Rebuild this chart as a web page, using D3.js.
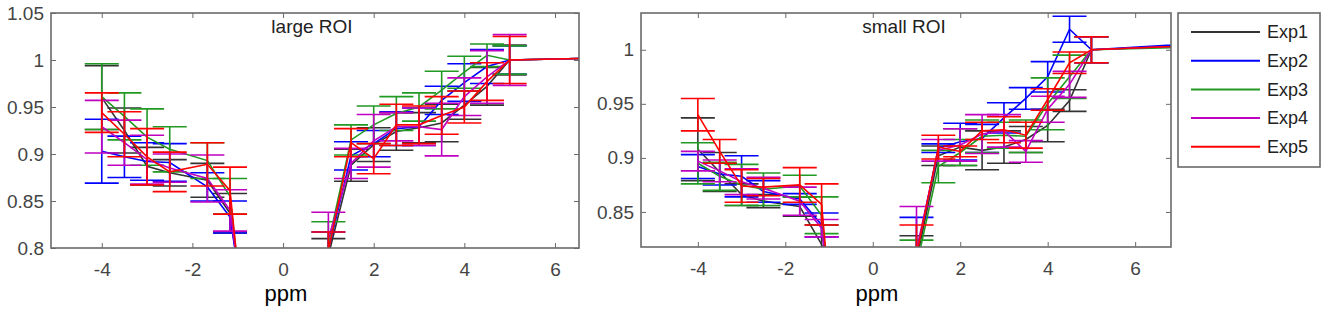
<!DOCTYPE html>
<html>
<head>
<meta charset="utf-8">
<script src="https://cdn.jsdelivr.net/npm/d3@7"></script>
<style>
  body { margin: 0; background: #fff; }
  svg { display: block; font-family: Arial, "Liberation Sans", sans-serif; }
</style>
</head>
<body>
<div id="chart"></div>
<script>
// offsets (ppm); 0 is a gap between the two wings
const ppm = [-4, -3.5, -3, -2.5, -1.67, -1.17, -1, 0, 1, 1.5, 2, 2.5, 3, 3.5, 4, 4.5, 5, 8];
const expNames = ["Exp1", "Exp2", "Exp3", "Exp4", "Exp5"];
const expColors = ["#333333", "#0000ff", "#229922", "#c000c0", "#ff0000"];

// large ROI - means
const largeExp1 = [0.960, 0.925, 0.887, 0.880, 0.872, 0.837, 0.78, null, 0.792, 0.888, 0.910, 0.924, 0.928, 0.933, 0.952, 0.972, 1.0, 1.003];
const largeExp2 = [0.903, 0.897, 0.892, 0.891, 0.865, 0.833, 0.78, null, 0.798, 0.898, 0.911, 0.927, 0.929, 0.957, 0.976, 0.993, 1.0, 1.003];
const largeExp3 = [0.961, 0.940, 0.918, 0.905, 0.893, 0.855, 0.78, null, 0.805, 0.915, 0.931, 0.943, 0.950, 0.968, 0.987, 1.005, 1.0, 1.003];
const largeExp4 = [0.929, 0.912, 0.894, 0.885, 0.874, 0.840, 0.78, null, 0.810, 0.890, 0.914, 0.929, 0.929, 0.926, 0.961, 0.982, 1.0, 1.003];
const largeExp5 = [0.944, 0.921, 0.897, 0.881, 0.889, 0.861, 0.78, null, 0.797, 0.912, 0.895, 0.931, 0.931, 0.941, 0.950, 0.977, 1.0, 1.003];
// large ROI - error (half length)
const largeErr1 = [0.034, 0.024, 0.020, 0.014, 0.018, 0.021, 0.01, null, 0.018, 0.017, 0.018, 0.020, 0.016, 0.020, 0.015, 0.020, 0.016, 0];
const largeErr2 = [0.034, 0.022, 0.020, 0.020, 0.015, 0.017, 0.01, null, 0.019, 0.015, 0.014, 0.018, 0.020, 0.015, 0.020, 0.018, 0.015, 0];
const largeErr3 = [0.035, 0.025, 0.030, 0.024, 0.019, 0.019, 0.01, null, 0.023, 0.016, 0.020, 0.018, 0.015, 0.020, 0.017, 0.012, 0.015, 0];
const largeErr4 = [0.028, 0.024, 0.026, 0.015, 0.025, 0.022, 0.01, null, 0.028, 0.016, 0.028, 0.015, 0.020, 0.028, 0.020, 0.028, 0.027, 0];
const largeErr5 = [0.021, 0.024, 0.030, 0.021, 0.023, 0.025, 0.01, null, 0.020, 0.015, 0.016, 0.022, 0.020, 0.020, 0.017, 0.020, 0.025, 0];

// small ROI - means
const smallExp1 = [0.908, 0.887, 0.866, 0.860, 0.855, 0.820, 0.78, null, 0.805, 0.902, 0.910, 0.907, 0.910, 0.917, 0.930, 0.953, 1.0, 1.005];
const smallExp2 = [0.892, 0.885, 0.883, 0.869, 0.862, 0.838, 0.78, null, 0.812, 0.909, 0.915, 0.918, 0.937, 0.955, 0.975, 1.019, 1.0, 1.007];
const smallExp3 = [0.895, 0.883, 0.875, 0.871, 0.874, 0.847, 0.78, null, 0.800, 0.892, 0.905, 0.920, 0.921, 0.920, 0.950, 0.975, 1.0, 1.003];
const smallExp4 = [0.897, 0.888, 0.878, 0.872, 0.860, 0.835, 0.78, null, 0.815, 0.907, 0.912, 0.922, 0.925, 0.906, 0.945, 0.968, 1.0, 1.005];
const smallExp5 = [0.940, 0.906, 0.874, 0.873, 0.875, 0.857, 0.78, null, 0.810, 0.910, 0.906, 0.925, 0.926, 0.921, 0.954, 0.988, 1.0, 1.005];
// small ROI - error (half length)
const smallErr1 = [0.029, 0.018, 0.010, 0.006, 0.009, 0.018, 0.01, null, 0.023, 0.009, 0.017, 0.018, 0.015, 0.012, 0.015, 0.010, 0.012, 0];
const smallErr2 = [0.011, 0.010, 0.019, 0.010, 0.005, 0.011, 0.01, null, 0.033, 0.004, 0.017, 0.013, 0.014, 0.010, 0.014, 0.012, 0.012, 0];
const smallErr3 = [0.019, 0.013, 0.019, 0.015, 0.010, 0.017, 0.01, null, 0.024, 0.015, 0.012, 0.015, 0.012, 0.015, 0.024, 0.020, 0.012, 0];
const smallErr4 = [0.009, 0.010, 0.012, 0.010, 0.013, 0.008, 0.01, null, 0.040, 0.010, 0.015, 0.018, 0.015, 0.010, 0.012, 0.012, 0.012, 0];
const smallErr5 = [0.015, 0.011, 0.015, 0.008, 0.016, 0.019, 0.01, null, 0.028, 0.011, 0.005, 0.008, 0.012, 0.012, 0.010, 0.010, 0.012, 0];

const xTicks = [-4, -2, 0, 2, 4, 6];
const largeYTicks = [0.8, 0.85, 0.9, 0.95, 1, 1.05];
const smallYTicks = [0.85, 0.9, 0.95, 1];

let panels = [
    {
        id: "large", title: "large ROI",
        left: 51, right: 579, top: 13, bottom: 248,
        xDomain: [-5.12, 6.53], yDomain: [0.8, 1.05], yTicks: largeYTicks,
        means: [largeExp1, largeExp2, largeExp3, largeExp4, largeExp5],
        errs: [largeErr1, largeErr2, largeErr3, largeErr4, largeErr5],
        titleX: 312, labelX: 286
    },
    {
        id: "small", title: "small ROI",
        left: 641, right: 1171, top: 13, bottom: 247,
        xDomain: [-5.3, 6.82], yDomain: [0.8176, 1.034], yTicks: smallYTicks,
        means: [smallExp1, smallExp2, smallExp3, smallExp4, smallExp5],
        errs: [smallErr1, smallErr2, smallErr3, smallErr4, smallErr5],
        titleX: 904, labelX: 877
    }
];

const width = 1338, height = 325;
const capHalf = 17;
const tickColor = "#444";
const frameColor = "#6a6a6a";

let svg = d3.select("#chart")
    .append("svg")
    .attr("width", width)
    .attr("height", height);

function drawPanel(p) {
    let x = d3.scaleLinear().domain(p.xDomain).range([p.left, p.right]);
    let y = d3.scaleLinear().domain(p.yDomain).range([p.bottom, p.top]);
    let g = svg.append("g");

    g.append("clipPath").attr("id", "clip-" + p.id)
        .append("rect")
        .attr("x", p.left).attr("y", p.top)
        .attr("width", p.right - p.left).attr("height", p.bottom - p.top);

    // axes, ticks pointing inward like matlab
    let styleAxis = sel => {
        sel.select(".domain").remove();
        sel.selectAll(".tick line").attr("stroke", frameColor).attr("stroke-width", 1);
        sel.selectAll(".tick text").attr("fill", tickColor).style("font-size", "19px");
    };
    g.append("g").attr("transform", `translate(0,${p.bottom})`)
        .call(d3.axisBottom(x).tickValues(xTicks).tickFormat(d => String(d)).tickSizeInner(-5).tickSizeOuter(0).tickPadding(15))
        .call(styleAxis);
    g.append("g").attr("transform", `translate(0,${p.top})`)
        .call(d3.axisTop(x).tickValues(xTicks).tickFormat("").tickSizeInner(-5).tickSizeOuter(0))
        .call(styleAxis);
    g.append("g").attr("transform", `translate(${p.left},0)`)
        .call(d3.axisLeft(y).tickValues(p.yTicks).tickFormat(d => String(d)).tickSizeInner(-5).tickSizeOuter(0).tickPadding(7))
        .call(styleAxis);
    g.append("g").attr("transform", `translate(${p.right},0)`)
        .call(d3.axisRight(y).tickValues(p.yTicks).tickFormat("").tickSizeInner(-5).tickSizeOuter(0))
        .call(styleAxis);

    let plot = g.append("g").attr("clip-path", `url(#clip-${p.id})`);

    let line = d3.line()
        .defined(d => d.v != null)
        .x(d => x(d.x))
        .y(d => y(d.v));

    p.means.forEach((vals, i) => {
        let data = ppm.map((px, j) => ({x: px, v: vals[j], e: p.errs[i][j]}));
        let s = plot.append("g")
            .attr("stroke", expColors[i])
            .attr("fill", "none")
            .attr("stroke-width", 1.6);
        s.append("path").datum(data).attr("d", line);
        let bars = data.filter(d => d.v != null && d.e > 0);
        s.selectAll("line.bar").data(bars).join("line")
            .attr("class", "bar")
            .attr("x1", d => x(d.x)).attr("x2", d => x(d.x))
            .attr("y1", d => y(d.v - d.e)).attr("y2", d => y(d.v + d.e));
        s.selectAll("line.capTop").data(bars).join("line")
            .attr("class", "capTop")
            .attr("x1", d => x(d.x) - capHalf).attr("x2", d => x(d.x) + capHalf)
            .attr("y1", d => y(d.v + d.e)).attr("y2", d => y(d.v + d.e));
        s.selectAll("line.capBot").data(bars).join("line")
            .attr("class", "capBot")
            .attr("x1", d => x(d.x) - capHalf).attr("x2", d => x(d.x) + capHalf)
            .attr("y1", d => y(d.v - d.e)).attr("y2", d => y(d.v - d.e));
    });

    // frame
    g.append("rect")
        .attr("x", p.left).attr("y", p.top)
        .attr("width", p.right - p.left).attr("height", p.bottom - p.top)
        .attr("fill", "none").attr("stroke", frameColor).attr("stroke-width", 1.6);

    g.append("text")
        .attr("x", p.titleX).attr("y", 33)
        .attr("text-anchor", "middle")
        .attr("fill", "#222")
        .style("font-size", "19px")
        .text(p.title);

    g.append("text")
        .attr("x", p.labelX).attr("y", 301)
        .attr("text-anchor", "middle")
        .attr("fill", "#000")
        .style("font-size", "22px")
        .text("ppm");
}

panels.forEach(drawPanel);

// legend
let legend = svg.append("g");
legend.append("rect")
    .attr("x", 1178).attr("y", 13).attr("width", 142).attr("height", 154)
    .attr("fill", "#fff").attr("stroke", frameColor).attr("stroke-width", 1.6);
let entry = legend.selectAll("g.entry").data(expNames).join("g")
    .attr("class", "entry")
    .attr("transform", (d, i) => `translate(0,${32 + i * 28.7})`);
entry.append("line")
    .attr("x1", 1191).attr("x2", 1260)
    .attr("stroke", (d, i) => expColors[i]).attr("stroke-width", 2);
entry.append("text")
    .attr("x", 1267).attr("dy", "0.35em")
    .attr("fill", "#222")
    .style("font-size", "18px")
    .text(d => d);
</script>
</body>
</html>
